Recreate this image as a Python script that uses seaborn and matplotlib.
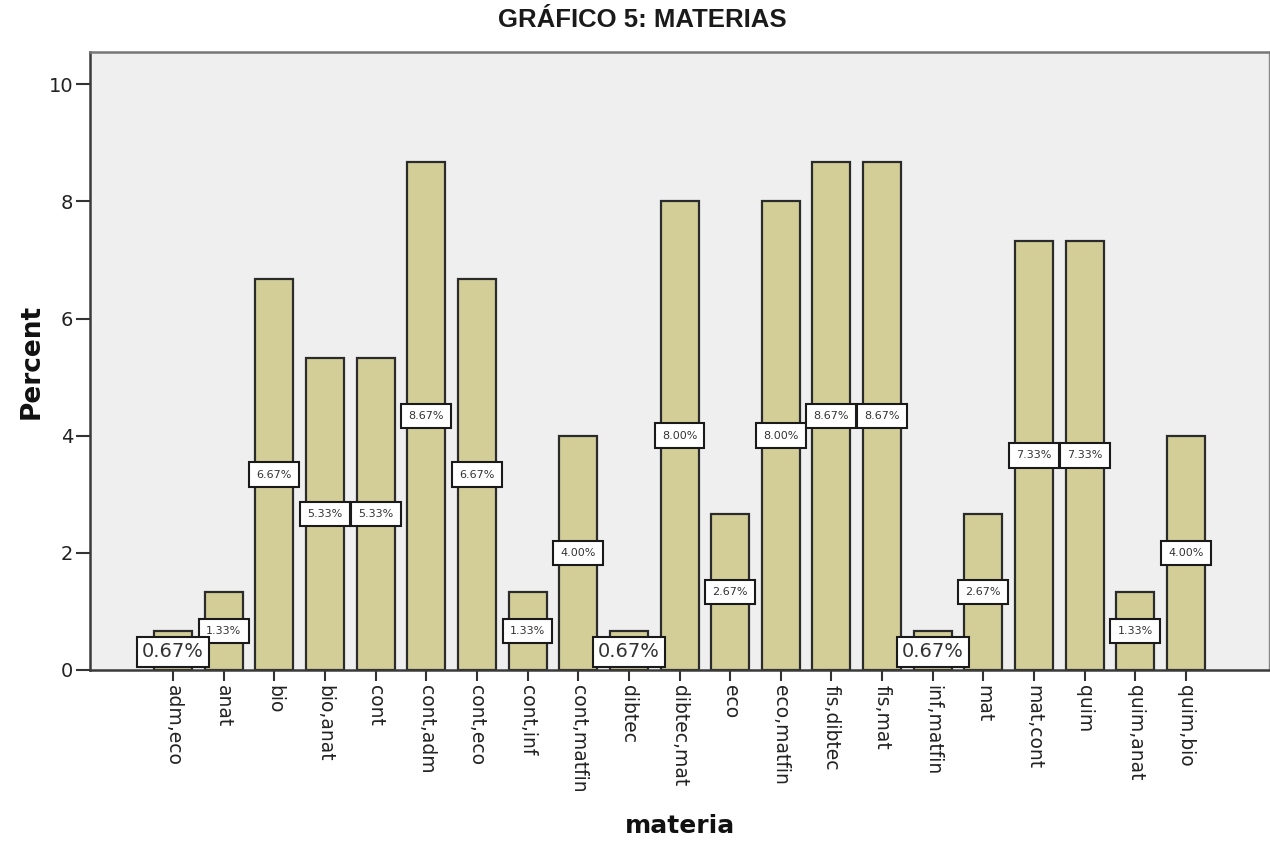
import matplotlib
matplotlib.use("Agg")
import matplotlib.pyplot as plt
import seaborn as sns
import pandas as pd

# Subject combinations and their share of respondents (%)
categories = ["adm,eco", "anat", "bio", "bio,anat", "cont", "cont,adm", "cont,eco",
              "cont,inf", "cont,matfin", "dibtec", "dibtec,mat", "eco", "eco,matfin",
              "fis,dibtec", "fis,mat", "inf,matfin", "mat", "mat,cont", "quim",
              "quim,anat", "quim,bio"]
percents = [0.67, 1.33, 6.67, 5.33, 5.33, 8.67, 6.67,
            1.33, 4.00, 0.67, 8.00, 2.67, 8.00,
            8.67, 8.67, 0.67, 2.67, 7.33, 7.33,
            1.33, 4.00]
y_ticks = [0, 2, 4, 6, 8, 10]

df = pd.DataFrame({"materia": categories, "Percent": percents})

sns.set_style("white")
plt.rcParams["font.family"] = ["DejaVu Sans"]

fig = plt.figure(figsize=(12.7, 8.42), dpi=100)
ax = fig.add_axes([0.0709, 0.2043, 0.9283, 0.7339])
ax.set_facecolor("#EFEFEF")

sns.barplot(data=df, x="materia", y="Percent", color="#D3CE97", saturation=1,
            width=0.75, edgecolor="#2b2b2b", linewidth=1.6, ax=ax, zorder=2)

ax.set_xlim(-1.64, len(categories) - 1 + 1.64)
ax.set_ylim(0, 10.55)
ax.set_yticks(y_ticks)
ax.set_yticklabels([str(t) for t in y_ticks])

ax.tick_params(axis="y", which="both", left=True, length=10, width=1.5,
               color="#333333", labelsize=14, labelcolor="#222222", pad=2, direction="out")
ax.tick_params(axis="x", which="both", bottom=True, length=8, width=1.5,
               color="#333333", labelsize=13.5, labelcolor="#222222", pad=3, direction="out")
for lbl in ax.get_xticklabels():
    lbl.set_rotation(-90)
    lbl.set_va("top")
    lbl.set_ha("center")

for side in ["left", "bottom"]:
    ax.spines[side].set_color("#3a3a3a")
    ax.spines[side].set_linewidth(1.8)
ax.spines["top"].set_color("#777777")
ax.spines["top"].set_linewidth(1.8)
ax.spines["right"].set_color("#888888")
ax.spines["right"].set_linewidth(1.0)

ax.set_xlabel("materia", fontsize=18, fontweight="bold", labelpad=15, color="#111111")
ax.set_ylabel("Percent", fontsize=19, fontweight="bold", labelpad=3, color="#111111")
ax.grid(False)

# Value labels: regular bars get a small box at mid-height,
# very short bars get a larger box resting on the baseline.
for i, v in enumerate(percents):
    text = f"{v:.2f}%"
    if v >= 1:
        ax.text(i, v / 2, text, ha="center", va="center", fontsize=8,
                color="#333333", zorder=4,
                bbox=dict(boxstyle="square,pad=0.65", fc="white", ec="#1a1a1a", lw=1.5))
for i, v in enumerate(percents):
    text = f"{v:.2f}%"
    if v < 1:
        ax.annotate(text, xy=(i, 0), xytext=(0, 18), textcoords="offset pixels",
                    ha="center", va="center", fontsize=14, color="#333333", zorder=5,
                    bbox=dict(boxstyle="square,pad=0.27", fc="white", ec="#1a1a1a", lw=1.5),
                    annotation_clip=False)

fig.suptitle("GRÁFICO 5: MATERIAS", x=0.506, y=0.976, va="center",
             fontsize=18.5, fontweight="bold", family=["Liberation Sans", "DejaVu Sans"],
             color="#1a1a1a")

fig.savefig("out.png", dpi=100, facecolor="white")
